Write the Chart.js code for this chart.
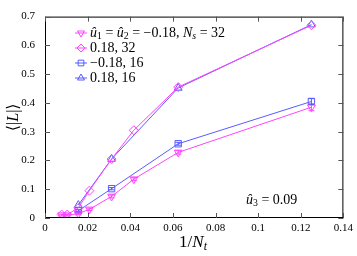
<!DOCTYPE html>
<html>
<head>
<meta charset="utf-8">
<script src="https://cdn.jsdelivr.net/npm/chart.js@4/dist/chart.umd.min.js"></script>
<style>
  html, body { margin: 0; padding: 0; background: #fff; }
  #wrap { width: 357px; height: 256px; }
</style>
</head>
<body>
<div id="wrap"><canvas id="chart"></canvas></div>
<script>
// 1/N_t values and <|L|> per series
const xNs32 = [0.0078125, 0.0104167, 0.015625, 0.0208333, 0.03125, 0.0416667, 0.0625, 0.125];
const xNs16 = [0.015625, 0.03125, 0.0625, 0.125];

const yNeg32 = [0.010, 0.010, 0.015, 0.030, 0.075, 0.135, 0.228, 0.385];
const yPos32 = [0.012, 0.012, 0.035, 0.095, 0.205, 0.305, 0.455, 0.670];
const yNeg16 = [0.025, 0.102, 0.258, 0.405];
const yPos16 = [0.045, 0.205, 0.452, 0.672];

const errNeg32 = [0.003, 0.003, 0.004, 0.004, 0.005, 0.005, 0.006, 0.012];
const errNeg16 = [0.004, 0.004, 0.005, 0.010];

const xTicks = [0, 0.02, 0.04, 0.06, 0.08, 0.1, 0.12, 0.14];
const yTicks = [0, 0.1, 0.2, 0.3, 0.4, 0.5, 0.6, 0.7];

const MAGENTA = '#ff44ff';
const BLUE = '#5a5aff';
const SERIF = '"Liberation Serif", "DejaVu Serif", serif';

function pts(xs, ys) {
    return xs.map((x, i) => ({ x: x, y: ys[i] }));
}

// rich text: list of fragments {t, i (italic), sub}
function drawRich(ctx, frags, x, y, size) {
    let cx = x;
    frags.forEach(f => {
        const s = f.sub ? size * 0.7 : size;
        ctx.font = (f.i ? 'italic ' : '') + s + 'px ' + SERIF;
        ctx.fillText(f.t, cx, y + (f.sub ? size * 0.25 : 0));
        cx += ctx.measureText(f.t).width;
    });
    return cx - x;
}

function richWidth(ctx, frags, size) {
    let w = 0;
    frags.forEach(f => {
        const s = f.sub ? size * 0.7 : size;
        ctx.font = (f.i ? 'italic ' : '') + s + 'px ' + SERIF;
        w += ctx.measureText(f.t).width;
    });
    return w;
}

const legendLabels = [
    [{t: 'û', i: 1}, {t: '1', sub: 1}, {t: ' = '}, {t: 'û', i: 1}, {t: '2', sub: 1},
     {t: ' = −0.18, '}, {t: 'N', i: 1}, {t: 's', i: 1, sub: 1}, {t: ' = 32'}],
    [{t: '0.18, 32'}],
    [{t: '−0.18, 16'}],
    [{t: '0.18, 16'}]
];

const errorBars = {
    id: 'errorBars',
    afterDatasetsDraw(chart) {
        const ctx = chart.ctx;
        const xs = chart.scales.x, ys = chart.scales.y;
        [[0, errNeg32], [2, errNeg16]].forEach(([di, errs]) => {
            const ds = chart.data.datasets[di];
            ctx.save();
            ctx.strokeStyle = ds.borderColor;
            ctx.lineWidth = 1;
            ds.data.forEach((p, i) => {
                const px = xs.getPixelForValue(p.x);
                const y1 = ys.getPixelForValue(p.y - errs[i]);
                const y2 = ys.getPixelForValue(p.y + errs[i]);
                ctx.beginPath();
                ctx.moveTo(px, y1); ctx.lineTo(px, y2);
                ctx.moveTo(px - 3, y1); ctx.lineTo(px + 3, y1);
                ctx.moveTo(px - 3, y2); ctx.lineTo(px + 3, y2);
                ctx.stroke();
            });
            ctx.restore();
        });
    }
};

const frame = {
    id: 'frame',
    afterDraw(chart) {
        const ctx = chart.ctx;
        const a = chart.chartArea;
        const xs = chart.scales.x, ys = chart.scales.y;
        ctx.save();
        ctx.strokeStyle = '#000';
        ctx.lineWidth = 1;
        ctx.strokeRect(a.left + 0.5, a.top + 0.5, a.right - a.left - 1, a.bottom - a.top - 1);
        ctx.strokeStyle = '#555';
        ctx.beginPath();
        xTicks.forEach(v => {
            const px = Math.round(xs.getPixelForValue(v)) + 0.5;
            ctx.moveTo(px, a.bottom); ctx.lineTo(px, a.bottom - 5);
            ctx.moveTo(px, a.top); ctx.lineTo(px, a.top + 5);
        });
        yTicks.forEach(v => {
            const py = Math.round(ys.getPixelForValue(v)) + 0.5;
            ctx.moveTo(a.left, py); ctx.lineTo(a.left + 5, py);
            ctx.moveTo(a.right, py); ctx.lineTo(a.right - 5, py);
        });
        ctx.stroke();

        // legend
        ctx.textBaseline = 'middle';
        const lx = 81, ly = 33, dy = 15;
        chart.data.datasets.forEach((ds, i) => {
            const y = ly + i * dy;
            ctx.strokeStyle = ds.borderColor;
            ctx.fillStyle = 'rgba(0,0,0,0)';
            ctx.lineWidth = 1;
            ctx.beginPath();
            ctx.moveTo(lx - 6, y); ctx.lineTo(lx + 6, y);
            ctx.stroke();
            Chart.helpers.drawPoint(ctx, {
                pointStyle: ds.pointStyle, rotation: ds.pointRotation || 0,
                radius: 4, borderWidth: 1
            }, lx, y);
            ctx.fillStyle = '#000';
            drawRich(ctx, legendLabels[i], 90, y, 14);
        });

        // annotation
        drawRich(ctx, [{t: 'û', i: 1}, {t: '3', sub: 1}, {t: ' = 0.09'}], 246, 200, 14);

        // axis titles
        const xt = [{t: '1/'}, {t: 'N', i: 1}, {t: 't', i: 1, sub: 1}];
        const w = richWidth(ctx, xt, 17);
        drawRich(ctx, xt, 193 - w / 2, 243, 17);

        ctx.translate(14, (a.top + a.bottom) / 2);
        ctx.rotate(-Math.PI / 2);
        const yt = [{t: '⟨|'}, {t: 'L', i: 1}, {t: '|⟩'}];
        const wy = richWidth(ctx, yt, 16);
        drawRich(ctx, yt, -wy / 2, 0, 16);
        ctx.restore();
    }
};

new Chart(document.getElementById('chart').getContext('2d'), {
    type: 'line',
    data: {
        datasets: [{
            label: 'u=-0.18, Ns=32',
            data: pts(xNs32, yNeg32),
            borderColor: MAGENTA,
            pointStyle: 'triangle',
            pointRotation: 180
        }, {
            label: '0.18, 32',
            data: pts(xNs32, yPos32),
            borderColor: MAGENTA,
            pointStyle: 'rectRot'
        }, {
            label: '-0.18, 16',
            data: pts(xNs16, yNeg16),
            borderColor: BLUE,
            pointStyle: 'rect'
        }, {
            label: '0.18, 16',
            data: pts(xNs16, yPos16),
            borderColor: BLUE,
            pointStyle: 'triangle'
        }].map(ds => Object.assign(ds, {
            backgroundColor: 'rgba(0,0,0,0)',
            pointBorderColor: ds.borderColor,
            borderWidth: 1,
            pointBorderWidth: 1,
            pointRadius: 4.5,
            tension: 0
        }))
    },
    options: {
        responsive: true,
        maintainAspectRatio: false,
        animation: false,
        layout: { padding: { top: 10, right: 12, left: 0, bottom: 0 } },
        plugins: { legend: { display: false }, tooltip: { enabled: false } },
        scales: {
            x: {
                type: 'linear',
                min: 0, max: 0.14,
                afterBuildTicks: s => { s.ticks = xTicks.map(v => ({ value: v })); },
                afterFit: s => { s.height = 38; },
                grid: { display: false, drawTicks: false },
                border: { display: false },
                ticks: {
                    color: '#000', padding: 4,
                    font: { family: SERIF, size: 11 },
                    callback: v => String(+v.toFixed(2))
                }
            },
            y: {
                type: 'linear',
                min: 0, max: 0.7,
                afterBuildTicks: s => { s.ticks = yTicks.map(v => ({ value: v })); },
                afterFit: s => { s.width = 45; },
                grid: { display: false, drawTicks: false },
                border: { display: false },
                ticks: {
                    color: '#000', padding: 10,
                    font: { family: SERIF, size: 11 },
                    callback: v => String(+v.toFixed(1))
                }
            }
        }
    },
    plugins: [errorBars, frame]
});
</script>
</body>
</html>
